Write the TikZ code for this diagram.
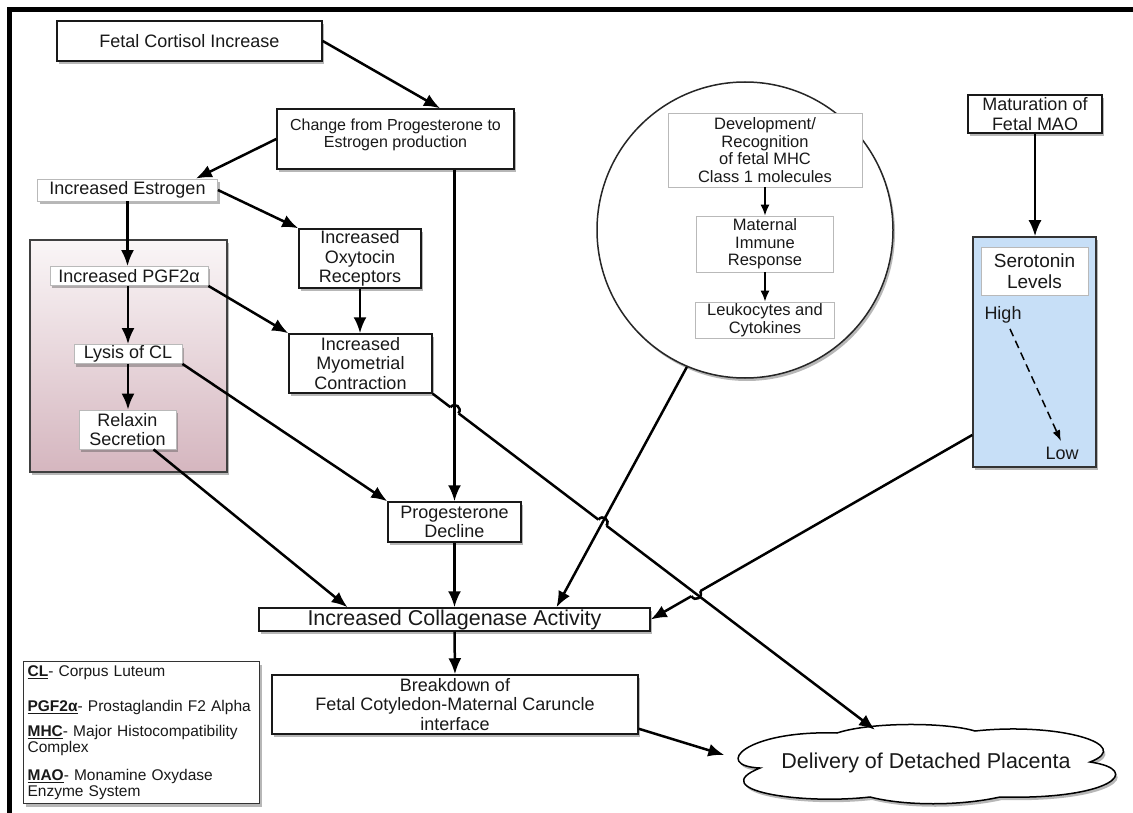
\documentclass[tikz,border=0pt]{standalone}
\usepackage{fontspec}
\setmainfont{Liberation Sans}
\usetikzlibrary{arrows.meta,shadows,shapes.geometric,calc,intersections}

\definecolor{pinktop}{RGB}{250,246,247}
\definecolor{pinkbot}{RGB}{213,182,191}
\definecolor{serblue}{RGB}{199,223,247}
\definecolor{inkgray}{RGB}{25,25,25}

% little bridge where a connector jumps over another one
\newcommand{\hopover}[3]{%
  \path ($(#1)!5pt!(#2)$) coordinate (h1) ($(#1)!5pt!(#3)$) coordinate (h2);
  \draw[white,line width=5.5pt] (h1) -- (h2);
  \draw[line width=2.5pt] (h1) .. controls ($(h1)!7pt!90:(h2)$) and ($(h2)!7pt!-90:(h1)$) .. (h2);
}

\begin{document}
\begin{tikzpicture}[x=1pt,y=-1pt,
    every node/.style={font=\fontsize{18}{19.5}\selectfont, text=inkgray, align=center},
    shdw/.style={drop shadow={shadow xshift=2pt,shadow yshift=-3pt,fill=black!70,opacity=0.4}},
    box/.style={draw=black!90, line width=1.5pt, fill=white, inner sep=1pt, shdw},
    lbox/.style={box, draw=gray!55, line width=0.8pt},
    ibox/.style={draw=gray!55, line width=0.8pt, fill=white, inner sep=1pt,
      font=\fontsize{16.5}{17.7}\selectfont},
    arr/.style={line width=2.5pt, -{Latex[length=16pt,width=13pt]}},
    iarr/.style={line width=1.5pt, -{Latex[length=11pt,width=9pt]}}]
    \useasboundingbox (0,0) rectangle (1133,813);
    \draw[line width=5pt] (9.5,813) -- (9.5,10) -- (1133,10);

    % containers
    \node[draw=black!75, line width=1.2pt, top color=pinktop, bottom color=pinkbot,
      minimum width=197, minimum height=232, shdw] (clbox) at (128.5,356) {};
    \node[circle, draw=black!85, line width=1.5pt, fill=white, minimum size=296, shdw] (imm) at (745,230) {};
    \node[draw=black!80, line width=1.5pt, fill=serblue, minimum width=123, minimum height=230, shdw] (ser) at (1034.5,352) {};

    % cloud outline
    \draw[line width=1.5pt, fill=white, shdw]
      (760,768) .. controls (712,766) and (745,730) .. (837,733)
      .. controls (870,722) and (945,722) .. (975,731)
      .. controls (1060,722) and (1135,745) .. (1090,762)
      .. controls (1145,770) and (1110,800) .. (1000,797)
      .. controls (960,806) and (905,806) .. (870,797)
      .. controls (800,805) and (705,790) .. cycle;

    % main chain
    \node[box, minimum width=265, minimum height=40] (fci) at (189.5,41) {Fetal Cortisol Increase};
    \node[box, minimum width=237, minimum height=60, font=\fontsize{16}{17}\selectfont] (chg) at (395.5,139) {Change from Progesterone to\\Estrogen production\\[-5pt]\mbox{}};
    \node[lbox, minimum width=180, minimum height=22] (est) at (127.5,190) {Increased Estrogen};
    \node[lbox, minimum width=158, minimum height=19] (pgf) at (129,276) {Increased PGF2α};
    \node[lbox, minimum width=108, minimum height=19] (lys) at (128,354) {Lysis of CL};
    \node[lbox, minimum width=97, minimum height=39] (rlx) at (127.5,429.5) {Relaxin\\Secretion};
    \node[box, minimum width=122, minimum height=59] (oxy) at (360,258.5) {Increased\\Oxytocin\\Receptors};
    \node[box, minimum width=143, minimum height=59] (myo) at (360.5,363.5) {Increased\\Myometrial\\Contraction};
    \node[box, minimum width=133, minimum height=40] (prd) at (454.5,522) {Progesterone\\Decline};
    \node[box, minimum width=391, minimum height=23, font=\fontsize{21.5}{23}\selectfont] (col) at (454.5,619.5) {Increased Collagenase Activity};
    \node[box, minimum width=366, minimum height=59] (brk) at (455,704.5) {Breakdown of\\Fetal Cotyledon-Maternal Caruncle\\interface};
    \node[ellipse, inner sep=0pt, minimum width=390, minimum height=62,
      font=\fontsize{21.5}{23}\selectfont] (dlv) at (926,763) {Delivery of Detached Placenta};

    % immune side
    \node[ibox, minimum width=194, minimum height=74] (dev) at (765,150) {Development/\\Recognition\\of fetal MHC\\Class 1 molecules};
    \node[ibox, minimum width=137, minimum height=56] (mat) at (765,244) {Maternal\\Immune\\Response};
    \node[ibox, minimum width=139, minimum height=36] (leu) at (765,320) {Leukocytes and\\Cytokines};

    % serotonin side
    \node[box, minimum width=134, minimum height=38] (mao) at (1035,114) {Maturation of\\Fetal MAO};
    \node[ibox, minimum width=107, minimum height=48, font=\fontsize{19}{21}\selectfont] (serl) at (1034.5,271) {Serotonin\\Levels};
    \node (hi) at (1003,315) {High};
    \node (lo) at (1062,453) {Low};

    % key
    \node[draw=black!80, line width=1.2pt, fill=white, anchor=north west, minimum width=236,
      minimum height=142, text width=228, inner xsep=4pt, align=left,
      font=\fontsize{15.5}{16}\selectfont, shdw] (key) at (23,661) {%
      \underline{\textbf{CL}}- Corpus Luteum\\[19pt]
      \underline{\textbf{PGF2α}}- Prostaglandin F2 Alpha\\[9pt]
      \underline{\textbf{MHC}}- Major Histocompatibility\\
      Complex\\[12pt]
      \underline{\textbf{MAO}}- Monamine Oxydase\\
      Enzyme System};

    % arrows
    \draw[arr] (fci.east) -- ($(chg.north)+(44.5,0)$);
    \draw[arr] (chg.west) -- ($(est.north east)+(-22,0)$);
    \draw[arr] (est.south) -- (est.south |- pgf.north);
    \draw[arr] (est.east) -- (oxy.north west);
    \draw[arr] (pgf.south -| lys.north) -- (lys.north);
    \draw[arr] (lys.south) -- (lys.south |- rlx.north);
    \draw[arr] (pgf.south east) -- (myo.north west);
    \draw[arr] (oxy.south) -- (oxy.south |- myo.north);
    \draw[arr] (lys.south east) -- (prd.north west);
    \draw[arr] ($(rlx.south)+(26,0)$) -- ($(col.north)+(-107,0)$);
    \draw[arr] (prd.south) -- (col.north);
    \draw[arr] (col.south) -- (brk.north);
    \draw[arr] ($(brk.south east)+(0,-6)$) -- ($(dlv.west)+(3,-8)$);
    \draw[arr] (mao.south) -- (mao.south |- ser.north);
    \draw[iarr] (dev.south) -- (mat.north);
    \draw[iarr] (mat.south) -- (leu.north);
    \draw[line width=1.5pt, dash pattern=on 8pt off 5pt, -{Latex[length=11pt,width=8pt]}]
      ($(hi.south)+(7,2)$) -- ($(lo.north)+(-1,-2)$);

    % crossing connectors
    \coordinate (serout) at ($(ser.west)+(0,83)$);
    \coordinate (dlvtop) at ($(dlv.north)+(-51,-2)$);
    \coordinate (colmid) at ($(col.north)+(102,0)$);
    \coordinate (chgout) at (chg.south -| prd.north);
    \path[name path=pser] (serout) -- (col.east);
    \path[name path=pmyo] (myo.south east) -- (dlvtop);
    \path[name path=pimm] (imm.247) -- (colmid);
    \path[name path=pvert] (chgout) -- (prd.north);
    \path[name intersections={of=pser and pmyo, by=xa}];
    \path[name intersections={of=pmyo and pvert, by=xb}];
    \path[name intersections={of=pmyo and pimm, by=xc}];

    \draw[arr] (serout) -- (col.east);
    \hopover{xa}{serout}{col.east}
    \draw[arr] (myo.south east) -- (dlvtop);
    \hopover{xb}{myo.south east}{dlvtop}
    \hopover{xc}{myo.south east}{dlvtop}
    \draw[arr] (chgout) -- (prd.north);
    \draw[arr] (imm.247) -- (colmid);
\end{tikzpicture}
\end{document}
